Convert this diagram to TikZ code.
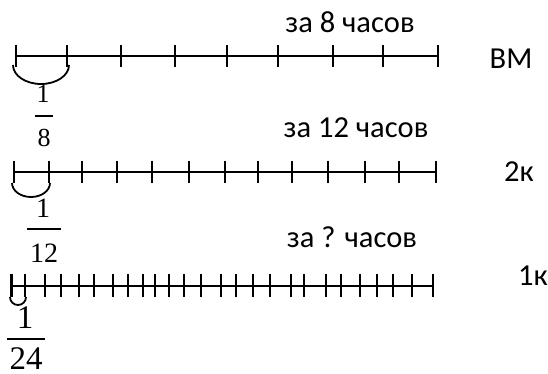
\documentclass[tikz,border=0pt]{standalone}
\usepackage{fontspec}
\setmainfont{Carlito}
\newfontfamily\fracfont{Liberation Serif}
\begin{document}
\begin{tikzpicture}[x=1pt,y=-1pt,
  axis/.style={line width=1.6pt},
  tick/.style={line width=2pt},
  brace/.style={line width=1.8pt},
  fbar/.style={line width=1.3pt},
  lbl/.style={font=\fontsize{30.5}{34}\selectfont,anchor=base,inner sep=0pt},
  fnum/.style={anchor=base,inner sep=0pt}]
\useasboundingbox (0,0) rectangle (548,374);
% line 1
\coordinate (a1) at (16,56);
\coordinate (b1) at (438,56);
\draw[axis] (a1) -- (b1);
\foreach \x in {16,67,121,175,227,278,333,383,438}
  \draw[tick] (\x,45) -- (\x,67);
\draw[brace] (13,65) arc[start angle=180,end angle=0,x radius=28,y radius=19];
% line 2
\coordinate (a2) at (14,172);
\coordinate (b2) at (436,172);
\draw[axis] (a2) -- (b2);
\foreach \x in {14,49,82,117,152,189,225,258,292,328,365,399,436}
  \draw[tick] (\x,161) -- (\x,183);
\draw[brace] (12,183) arc[start angle=180,end angle=0,x radius=19,y radius=14];
% line 3
\coordinate (a3) at (12,286);
\coordinate (b3) at (433,286);
\draw[axis] (a3) -- (b3);
\foreach \x in {12,25,45,61,79,94,113,128,143,155,169,184,201,221,236,253,270,291,304,326,341,360,377,393,412,433}
  \draw[tick] (\x,274) -- (\x,297);
\draw[line width=2.6pt] (11,274) -- (11,297);
\draw[brace] (10,297) arc[start angle=180,end angle=0,x radius=8,y radius=8];
% labels
\node[lbl] (t1) at (350,33) {за 8 часов};
\node[lbl] (v1) at (511,69) {ВМ};
\node[lbl] (t2) at (356,138) {за 12 часов};
\node[lbl] (v2) at (519,182) {2к};
\node[lbl] (t3) at (352,247) {за ? часов};
\node[lbl] (v3) at (533,285) {1к};
% fractions
\node[fnum,font=\fracfont\fontsize{26}{30}\selectfont] (n1) at (43,103) {1};
\draw[fbar] (35,116) -- (53,116);
\node[fnum,font=\fracfont\fontsize{26}{30}\selectfont] (d1) at (44,147) {8};
\node[fnum,font=\fracfont\fontsize{28}{32}\selectfont] (n2) at (43,217) {1};
\draw[fbar] (27,229) -- (61,229);
\node[fnum,font=\fracfont\fontsize{28}{32}\selectfont] (d2) at (44,262) {12};
\node[fnum,font=\fracfont\fontsize{33}{36}\selectfont] (n3) at (25,328) {1};
\draw[fbar] (7,339) -- (45,339);
\node[fnum,font=\fracfont\fontsize{33}{36}\selectfont] (d3) at (26,369) {24};
\end{tikzpicture}
\end{document}
